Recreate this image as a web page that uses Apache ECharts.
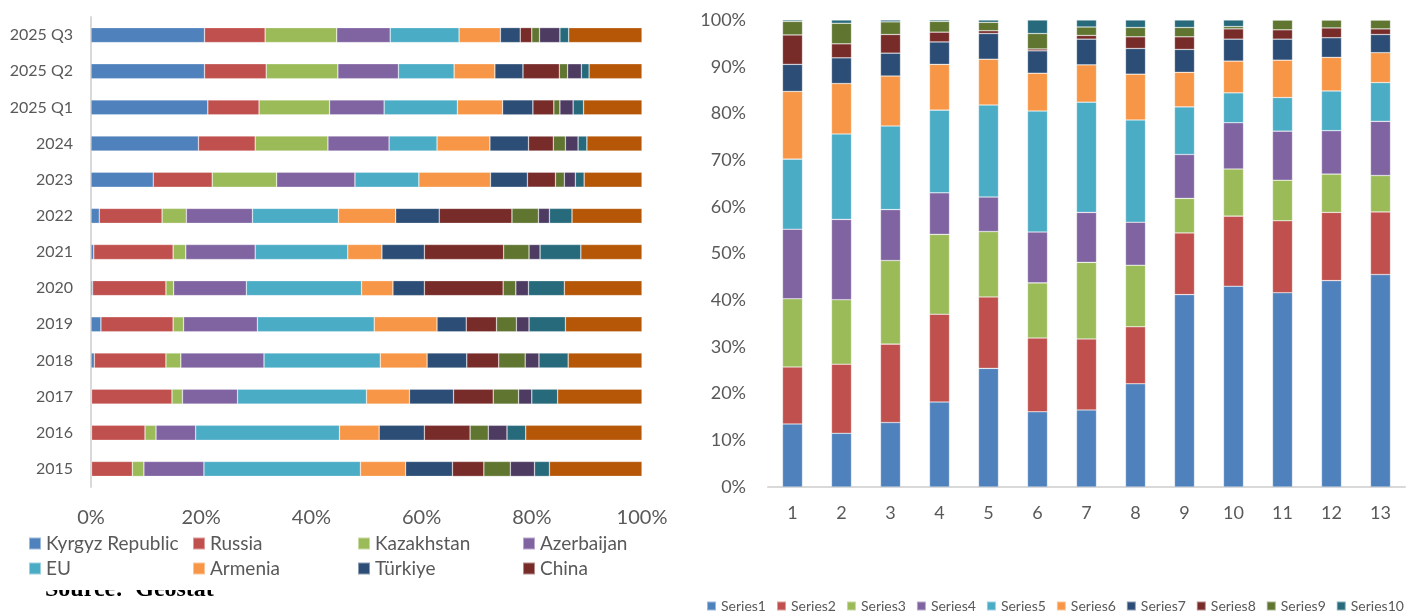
<!DOCTYPE html>
<html>
<head>
<meta charset="utf-8">
<script src="https://cdn.jsdelivr.net/npm/echarts@6/dist/echarts.min.js"></script>
<style>
  html, body { margin: 0; padding: 0; background: #fff; }
  #chart { width: 1414px; height: 615px; }
</style>
</head>
<body>
<div id="chart"></div>
<script>
// left panel: shares by partner, 2015 at the bottom
var years = ['2015', '2016', '2017', '2018', '2019', '2020', '2021', '2022', '2023', '2024', '2025 Q1', '2025 Q2', '2025 Q3'];
var kyrgyz     = [0.1, 0.1, 0.1, 0.6, 1.8, 0.3, 0.5, 1.5, 11.3, 19.5, 21.2, 20.6, 20.6];
var russia     = [7.4, 9.7, 14.6, 13.0, 13.1, 13.3, 14.4, 11.4, 10.7, 10.3, 9.3, 11.2, 11.0];
var kazakhstan = [2.1, 2.0, 1.9, 2.7, 1.9, 1.4, 2.3, 4.4, 11.7, 13.2, 12.8, 13.0, 13.0];
var azerbaijan = [10.9, 7.2, 10.0, 15.1, 13.4, 13.2, 12.6, 12.0, 14.2, 11.1, 9.9, 11.0, 9.7];
var eu         = [28.4, 26.1, 23.4, 21.1, 21.2, 20.9, 16.8, 15.6, 11.6, 8.7, 13.3, 10.1, 12.5];
var armenia    = [8.2, 7.2, 7.8, 8.5, 11.4, 5.7, 6.2, 10.4, 13.0, 9.6, 8.2, 7.4, 7.5];
var turkiye    = [8.5, 8.2, 8.0, 7.2, 5.3, 5.7, 7.7, 7.9, 6.7, 7.0, 5.5, 5.1, 3.6];
var china      = [5.7, 8.3, 7.2, 5.8, 5.5, 14.3, 14.4, 13.2, 5.1, 4.5, 3.8, 6.6, 2.1];
var ukraine    = [4.8, 3.3, 4.6, 4.8, 3.6, 2.3, 4.6, 4.8, 1.6, 2.2, 1.1, 1.5, 1.4];
var belarus    = [4.4, 3.4, 2.4, 2.5, 2.3, 2.3, 2.0, 2.0, 2.0, 2.3, 2.4, 2.5, 3.7];
var usa        = [2.7, 3.4, 4.7, 5.3, 6.6, 6.5, 7.4, 4.1, 1.6, 1.6, 1.9, 1.4, 1.6];
var others     = [16.8, 21.1, 15.3, 13.4, 13.9, 14.1, 11.1, 12.7, 10.5, 10.0, 10.6, 9.6, 13.3];
var xTicks = [0, 20, 40, 60, 80, 100];

// right panel: 13 periods, 10 unnamed series
var periods = ['1', '2', '3', '4', '5', '6', '7', '8', '9', '10', '11', '12', '13'];
var series1  = [13.5, 11.5, 13.8, 18.2, 25.4, 16.1, 16.5, 22.1, 41.2, 43.0, 41.6, 44.2, 45.5];
var series2  = [12.2, 14.8, 16.8, 18.8, 15.3, 15.8, 15.2, 12.2, 13.2, 15.0, 15.4, 14.6, 13.4];
var series3  = [14.6, 13.8, 17.9, 17.1, 14.0, 11.8, 16.4, 13.2, 7.4, 10.1, 8.7, 8.2, 7.8];
var series4  = [14.9, 17.2, 10.9, 8.9, 7.4, 10.9, 10.7, 9.2, 9.4, 9.9, 10.5, 9.3, 11.6];
var series5  = [15.0, 18.3, 17.9, 17.7, 19.7, 25.9, 23.6, 21.9, 10.2, 6.4, 7.2, 8.5, 8.3];
var series6  = [14.5, 10.8, 10.7, 9.8, 9.8, 8.1, 8.0, 9.8, 7.4, 6.8, 8.0, 7.2, 6.4];
var series7  = [5.8, 5.5, 4.9, 4.8, 5.5, 4.8, 5.5, 5.5, 4.9, 4.7, 4.5, 4.2, 3.9];
var series8  = [6.3, 3.0, 4.0, 2.1, 0.6, 0.4, 0.8, 2.5, 2.7, 2.2, 2.0, 2.1, 1.2];
var series9  = [2.9, 4.4, 2.7, 2.3, 1.8, 3.3, 1.8, 2.0, 2.0, 0.5, 2.1, 1.7, 1.9];
var series10 = [0.3, 0.7, 0.4, 0.3, 0.5, 2.9, 1.5, 1.6, 1.6, 1.4, 0.0, 0.0, 0.0];

var colors = ['#4F81BD', '#C0504D', '#9BBB59', '#8064A2', '#4BACC6', '#F79646',
              '#2C4D75', '#772C2A', '#5F7530', '#4D3B62', '#276A7C', '#B65708'];
var rightColors = colors.slice(0, 9).concat(['#276A7C']);
var fontFam = 'Lato, "Open Sans", sans-serif';
var grey = '#595959';

var leftSets = [
  ['Kyrgyz Republic', kyrgyz], ['Russia', russia], ['Kazakhstan', kazakhstan],
  ['Azerbaijan', azerbaijan], ['EU', eu], ['Armenia', armenia], ['Türkiye', turkiye],
  ['China', china], ['Ukraine', ukraine], ['Belarus', belarus], ['USA', usa], ['Others', others]
];
var rightSets = [series1, series2, series3, series4, series5, series6, series7, series8, series9, series10];

var series = []
leftSets.forEach(function (s, i) {
  series.push({
    name: s[0],
    type: 'bar',
    stack: 'left',
    xAxisIndex: 0,
    yAxisIndex: 0,
    barWidth: 15,
    itemStyle: { color: colors[i], borderColor: 'rgba(255,255,255,0.45)', borderWidth: 0.6 },
    data: s[1]
  })
})
rightSets.forEach(function (d, i) {
  series.push({
    name: 'Series' + (i + 1),
    type: 'bar',
    stack: 'right',
    xAxisIndex: 1,
    yAxisIndex: 1,
    barWidth: 20,
    itemStyle: { color: rightColors[i], borderColor: 'rgba(255,255,255,0.45)', borderWidth: 0.6 },
    data: d
  })
})

// left legend is laid out in 4 columns of 2 rows
var legendCols = [
  [28, ['Kyrgyz Republic', 'EU']],
  [192, ['Russia', 'Armenia']],
  [357, ['Kazakhstan', 'Türkiye']],
  [522, ['Azerbaijan', 'China']]
]
var legends = legendCols.map(function (c) {
  return {
    orient: 'vertical',
    left: c[0],
    top: 534,
    padding: 0,
    itemWidth: 12,
    itemHeight: 12,
    itemGap: 6,
    icon: 'rect',
    selectedMode: false,
    textStyle: { color: grey, fontSize: 19, fontFamily: fontFam },
    data: c[1]
  }
})
legends.push({
  orient: 'horizontal',
  left: 706,
  top: 599,
  padding: 0,
  itemWidth: 9,
  itemHeight: 9,
  itemGap: 10,
  icon: 'rect',
  selectedMode: false,
  textStyle: { color: grey, fontSize: 14, fontFamily: fontFam },
  data: rightSets.map(function (d, i) { return 'Series' + (i + 1) })
})

var chart = echarts.init(document.getElementById('chart'))
chart.setOption({
  animation: false,
  backgroundColor: '#fff',
  grid: [
    { left: 91, top: 17, width: 551, height: 470 },
    { left: 768, top: 20, width: 637, height: 467 }
  ],
  legend: legends,
  xAxis: [
    {
      type: 'value', gridIndex: 0, min: xTicks[0], max: xTicks[xTicks.length - 1], interval: 20,
      axisLine: { show: false }, axisTick: { show: false }, splitLine: { show: false },
      axisLabel: { formatter: '{value}%', color: grey, fontSize: 20, fontFamily: fontFam, margin: 21 }
    },
    {
      type: 'category', gridIndex: 1, data: periods,
      axisLine: { lineStyle: { color: '#D9D9D9', width: 2 } }, axisTick: { show: false },
      axisLabel: { color: grey, fontSize: 18, fontFamily: fontFam, margin: 17 }
    }
  ],
  yAxis: [
    {
      type: 'category', gridIndex: 0, data: years,
      axisLine: { lineStyle: { color: '#D9D9D9', width: 2 } }, axisTick: { show: false },
      axisLabel: { color: grey, fontSize: 16, fontFamily: fontFam, margin: 18 }
    },
    {
      type: 'value', gridIndex: 1, min: 0, max: 100, interval: 10,
      axisLine: { show: false }, axisTick: { show: false }, splitLine: { show: false },
      axisLabel: { formatter: '{value}%', color: grey, fontSize: 18, fontFamily: fontFam, margin: 22 }
    }
  ],
  graphic: [
    {
      type: 'text', left: 45, top: 578, z: 10,
      style: { text: 'Source:  Geostat', font: 'bold 24px "Liberation Serif", serif', fill: '#000' }
    },
    // the source line is half hidden under the legend box in the original
    { type: 'rect', left: 40, top: 579, z: 11, shape: { width: 200, height: 11 }, style: { fill: '#fff' } }
  ],
  series: series
})
</script>
</body>
</html>
